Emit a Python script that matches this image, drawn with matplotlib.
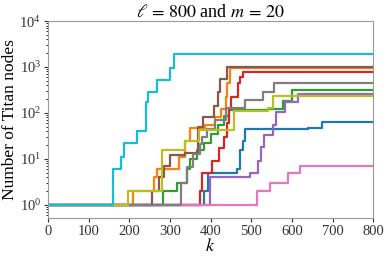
import matplotlib
matplotlib.use("Agg")
from matplotlib import pyplot as plt

# step points (k, number of Titan nodes) per run, tab10 colours in order
k_blue = [0, 384, 393, 465, 473, 479, 484, 640, 675]
v_blue = [1, 2, 5, 6, 16, 24, 45, 48, 62]
k_orange = [0, 209, 262, 268, 322, 337, 349, 386, 410, 425, 437, 441, 447]
v_orange = [1, 2, 4, 6, 11, 25, 48, 55, 83, 120, 226, 450, 940]
k_green = [0, 283, 318, 341, 350, 366, 383, 400, 417, 432, 445, 540, 577, 599]
v_green = [1, 2, 3, 6, 10, 16, 22, 35, 55, 85, 116, 122, 185, 316]
k_red = [0, 373, 380, 404, 420, 434, 440, 445, 449, 467, 472, 480]
v_red = [1, 2, 5, 9, 17, 30, 60, 120, 220, 440, 620, 790]
k_purple = [0, 398, 496, 517, 524, 532, 553, 560, 584, 616]
v_purple = [1, 4, 5, 9, 18, 33, 56, 105, 175, 255]
k_brown = [0, 255, 272, 286, 300, 337, 370, 382, 408, 418, 424, 441]
v_brown = [1, 2, 4, 7, 12, 13.5, 50, 83, 140, 280, 560, 1015]
k_pink = [0, 513, 545, 590, 620]
v_pink = [1, 2, 3, 5, 7]
k_gray = [0, 327, 342, 357, 373, 380, 392, 410, 437, 484, 529, 555]
v_gray = [1, 3, 6.5, 13, 21, 30, 45, 72, 125, 191, 280, 455]
k_olive = [0, 197, 280, 337, 372, 457, 541, 554]
v_olive = [1, 2, 16, 24, 43, 112, 128, 230]
k_cyan = [0, 159, 179, 187, 218, 240, 246, 268, 300, 309]
v_cyan = [1, 6, 11, 22, 41, 176, 290, 520, 940, 1900]

runs = [(k_blue, v_blue), (k_orange, v_orange), (k_green, v_green),
        (k_red, v_red), (k_purple, v_purple), (k_brown, v_brown),
        (k_pink, v_pink), (k_gray, v_gray), (k_olive, v_olive),
        (k_cyan, v_cyan)]
k_max = 800

plt.rcParams['font.family'] = ['Liberation Serif', 'DejaVu Serif']
plt.rcParams['mathtext.fontset'] = 'stix'

fig, ax = plt.subplots(figsize=(3.9, 2.6), dpi=100)
fig.subplots_adjust(left=0.123, right=0.957, bottom=0.162, top=0.919)

for i, (ks, vs) in enumerate(runs):
    # extend the last level out to the end of the k range
    ax.plot(ks + [k_max], vs + [vs[-1]], drawstyle='steps-post',
            color='C%d' % i, lw=1.6)

ax.set_yscale('log')
ax.set_xlim(0, k_max)
ax.set_ylim(0.52, 1e4)
ax.set_xticks(range(0, 801, 100))
ax.set_title(r'$\ell\,=\,800$ and $m\,=\,20$', fontsize=13, pad=3)
ax.set_xlabel(r'$k$', fontsize=13, labelpad=0)
ax.set_ylabel('Number of Titan nodes', fontsize=12.5, labelpad=1)
ax.tick_params(labelsize=10.5, colors='#333333', length=3, pad=2)
ax.tick_params(which='minor', length=1.5)
for sp in ax.spines.values():
    sp.set_color('#999999')

plt.savefig('out.png')
